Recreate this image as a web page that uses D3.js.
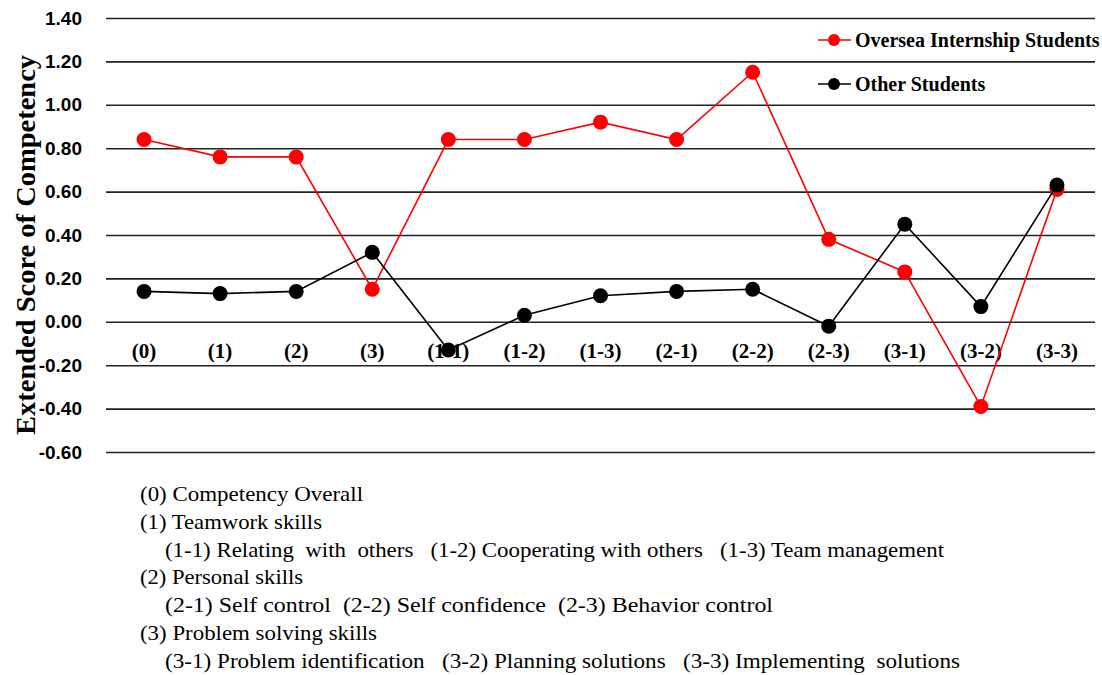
<!DOCTYPE html>
<html>
<head>
<meta charset="utf-8">
<script src="https://cdn.jsdelivr.net/npm/d3@7"></script>
<style>
  body { margin: 0; background: #fff; }
</style>
</head>
<body>
<svg id="main-chart"></svg>
<script>
const categories = ["(0)", "(1)", "(2)", "(3)", "(1-1)", "(1-2)", "(1-3)", "(2-1)", "(2-2)", "(2-3)", "(3-1)", "(3-2)", "(3-3)"];
const overseaValues = [0.84, 0.76, 0.76, 0.15, 0.84, 0.84, 0.92, 0.84, 1.15, 0.38, 0.23, -0.39, 0.61];
const otherValues = [0.14, 0.13, 0.14, 0.32, -0.13, 0.03, 0.12, 0.14, 0.15, -0.02, 0.45, 0.07, 0.63];
const yTicks = [-0.6, -0.4, -0.2, 0, 0.2, 0.4, 0.6, 0.8, 1.0, 1.2, 1.4];
const seriesNames = ["Oversea Internship Students", "Other Students"];
const seriesColors = ["#ff0000", "#000000"];
const footnotes = [
  "(0) Competency Overall",
  "(1) Teamwork skills",
  "(1-1) Relating  with  others   (1-2) Cooperating with others   (1-3) Team management",
  "(2) Personal skills",
  "(2-1) Self control  (2-2) Self confidence  (2-3) Behavior control",
  "(3) Problem solving skills",
  "(3-1) Problem identification   (3-2) Planning solutions   (3-3) Implementing  solutions"
];
const footnoteIndent = [false, false, true, false, true, false, true];
const footnoteWidths = [223, 182, 779, 163, 608, 237, 795];

function plotchart()
{
  const width = 1102;
  const height = 675;
  const left = 106, right = 1095, top = 18, bottom = 452;

  const svg = d3.select("#main-chart")
      .attr("width", width)
      .attr("height", height);

  const x = d3.scalePoint()
    .domain(categories)
    .range([left, right])
    .padding(0.5);

  const y = d3.scaleLinear()
    .domain([-0.6, 1.4])
    .range([bottom, top]);

  // gridlines + tick labels
  svg.append("g")
      .attr("transform", `translate(${left},0)`)
      .call(d3.axisLeft(y)
        .tickValues(yTicks)
        .tickSize(-(right - left))
        .tickPadding(24)
        .tickFormat(d => d.toFixed(2)))
      .call(g => g.select(".domain").remove())
      .call(g => g.selectAll(".tick line")
        .attr("stroke", "#222")
        .attr("stroke-width", 1.6))
      .call(g => g.selectAll(".tick text")
        .attr("fill", "#000")
        .attr("font-family", "'Liberation Sans', Arial, sans-serif")
        .attr("font-weight", "bold")
        .attr("font-size", 19));

  // y title
  svg.append("text")
      .attr("transform", `translate(35,245) rotate(-90)`)
      .attr("text-anchor", "middle")
      .attr("font-family", "'Liberation Serif', 'Times New Roman', serif")
      .attr("font-weight", "bold")
      .attr("font-size", 27)
      .attr("textLength", 380)
      .attr("lengthAdjust", "spacingAndGlyphs")
      .text("Extended Score of Competency");

  // category labels
  svg.append("g")
      .attr("font-family", "'Liberation Serif', 'Times New Roman', serif")
      .attr("font-weight", "bold")
      .attr("font-size", 21)
      .attr("text-anchor", "middle")
    .selectAll("text")
    .data(categories)
    .join("text")
      .attr("x", d => x(d))
      .attr("y", 358)
      .text(d => d);

  const series = [overseaValues, otherValues];
  const line = d3.line()
    .x((d, i) => x(categories[i]))
    .y(d => y(d));

  series.forEach((vals, s) => {
    const g = svg.append("g");
    g.append("path")
        .datum(vals)
        .attr("fill", "none")
        .attr("stroke", seriesColors[s])
        .attr("stroke-width", 1.6)
        .attr("d", line);
    g.selectAll("circle")
      .data(vals)
      .join("circle")
        .attr("cx", (d, i) => x(categories[i]))
        .attr("cy", d => y(d))
        .attr("r", 7.5)
        .attr("fill", seriesColors[s])
      .append("title")
        .text((d, i) => `${seriesNames[s]} ${categories[i]}: ${d}`);
  });

  // legend
  const legend = svg.append("g")
      .attr("font-family", "'Liberation Serif', 'Times New Roman', serif")
      .attr("font-weight", "bold")
      .attr("font-size", 20);
  const legendY = [40, 84];
  seriesNames.forEach((name, s) => {
    const row = legend.append("g")
        .attr("transform", `translate(818,${legendY[s]})`);
    row.append("line")
        .attr("x1", 0).attr("x2", 33)
        .attr("stroke", seriesColors[s])
        .attr("stroke-width", 1.6);
    row.append("circle")
        .attr("cx", 16).attr("r", 6)
        .attr("fill", seriesColors[s]);
    row.append("text")
        .attr("x", 37)
        .attr("y", 7)
        .text(name);
  });

  // footnotes
  svg.append("g")
      .attr("font-family", "'Liberation Serif', 'Times New Roman', serif")
      .attr("font-size", 21)
    .selectAll("text")
    .data(footnotes)
    .join("text")
      .attr("xml:space", "preserve")
      .attr("x", (d, i) => footnoteIndent[i] ? 165 : 140)
      .attr("y", (d, i) => 501 + i * 27.8)
      .attr("textLength", (d, i) => footnoteWidths[i])
      .attr("lengthAdjust", "spacingAndGlyphs")
      .text(d => d);
}

plotchart();
</script>
</body>
</html>
